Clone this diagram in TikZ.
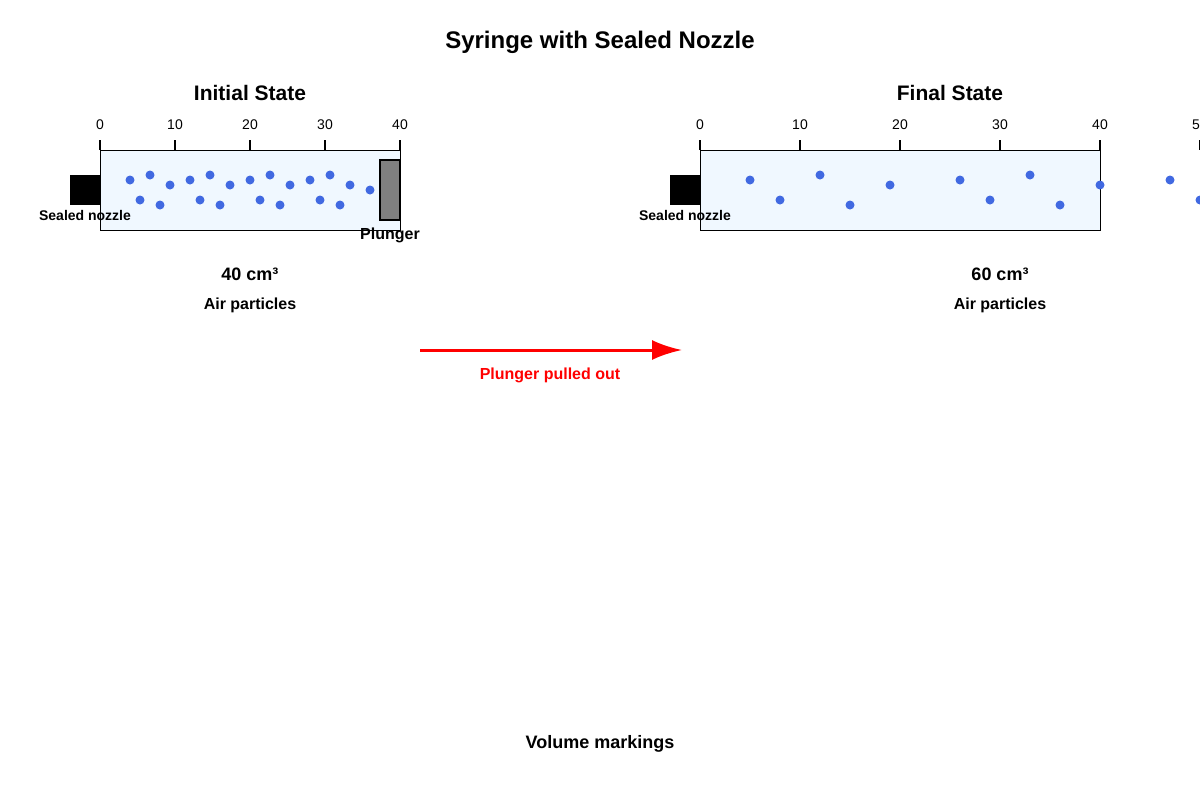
\documentclass[tikz,border=0pt]{standalone}
\usepackage{fontspec}
\setmainfont{Liberation Sans}
\usetikzlibrary{positioning, arrows.meta}
\definecolor{dotblue}{RGB}{65,105,225}
\definecolor{aliceblue}{RGB}{240,248,255}
\tikzset{
  lbl/.style={font=\bfseries\fontsize{8}{9}\selectfont},
  ttl/.style={font=\bfseries\fontsize{10.5}{12}\selectfont},
  tick/.style={font=\fontsize{7}{8}\selectfont},
  particle/.style={circle, draw=none, minimum size=4.5pt, inner sep=0pt},
  barrel/.style={draw=black, thin, fill=aliceblue}
}
\begin{document}
\begin{tikzpicture}[x=0.5pt,y=-0.5pt]
\useasboundingbox (0,0) rectangle (1200,800);
\clip (0,0) rectangle (1200,800);
\node[font=\bfseries\fontsize{12}{14}\selectfont] (title) at (600,42) {Syringe with Sealed Nozzle};
% Initial state
\node[ttl] (init) at (250,93) {Initial State};
\draw[barrel] (100,150) rectangle (400,230);
\foreach \v [count=\i from 0] in {0,10,20,30,40} {
  \draw[thick] (100+75*\i,140) -- (100+75*\i,150);
  \node[tick] (ti\i) at (100+75*\i,125) {\v};
}
\fill (70,175) rectangle (100,205);
\draw[thick, fill=gray] (380,160) rectangle (400,220);
\foreach \x/\y in {130/180,150/175,170/185,190/180,210/175,230/185,250/180,270/175,290/185,310/180,330/175,350/185,370/190,140/200,160/205,200/200,220/205,260/200,280/205,320/200,340/205}
  \node[particle, fill=dotblue] at (\x,\y) {};
\node[lbl, font=\bfseries\fontsize{7}{8}\selectfont] (nozi) at (85,215) {Sealed nozzle};
\node[lbl] (plunger) at (390,235) {Plunger};
\node[ttl, font=\bfseries\fontsize{9}{10}\selectfont] (voli) at (250,274) {40 cm³};
\node[lbl] (airi) at (250,305) {Air particles};
% Final state
\node[ttl] (final) at (950,93) {Final State};
\draw[barrel] (700,150) rectangle (1100,230);
\foreach \v [count=\i from 0] in {0,10,20,30,40,50} {
  \draw[thick] (700+100*\i,140) -- (700+100*\i,150);
  \node[tick] (tf\i) at (700+100*\i,125) {\v};
}
\fill (670,175) rectangle (700,205);
\foreach \x/\y in {750/180,780/200,820/175,850/205,890/185,960/180,990/200,1030/175,1060/205,1100/185,1170/180,1200/200}
  \node[particle, fill=dotblue] at (\x,\y) {};
\node[lbl, font=\bfseries\fontsize{7}{8}\selectfont] (nozf) at (685,215) {Sealed nozzle};
\node[ttl, font=\bfseries\fontsize{9}{10}\selectfont] (volf) at (1000,274) {60 cm³};
\node[lbl] (airf) at (1000,305) {Air particles};
% Arrow
\coordinate (a1) at (420,350);
\coordinate (a2) at (682,350);
\draw[red, line width=1.5pt, -{Latex[length=15pt,width=10pt]}] (a1) -- (a2);
\node[lbl, text=red] (pull) at (550,375) {Plunger pulled out};
\node[lbl, font=\bfseries\fontsize{9}{10}\selectfont] (marks) at (600,744) {Volume markings};
\end{tikzpicture}
\end{document}
